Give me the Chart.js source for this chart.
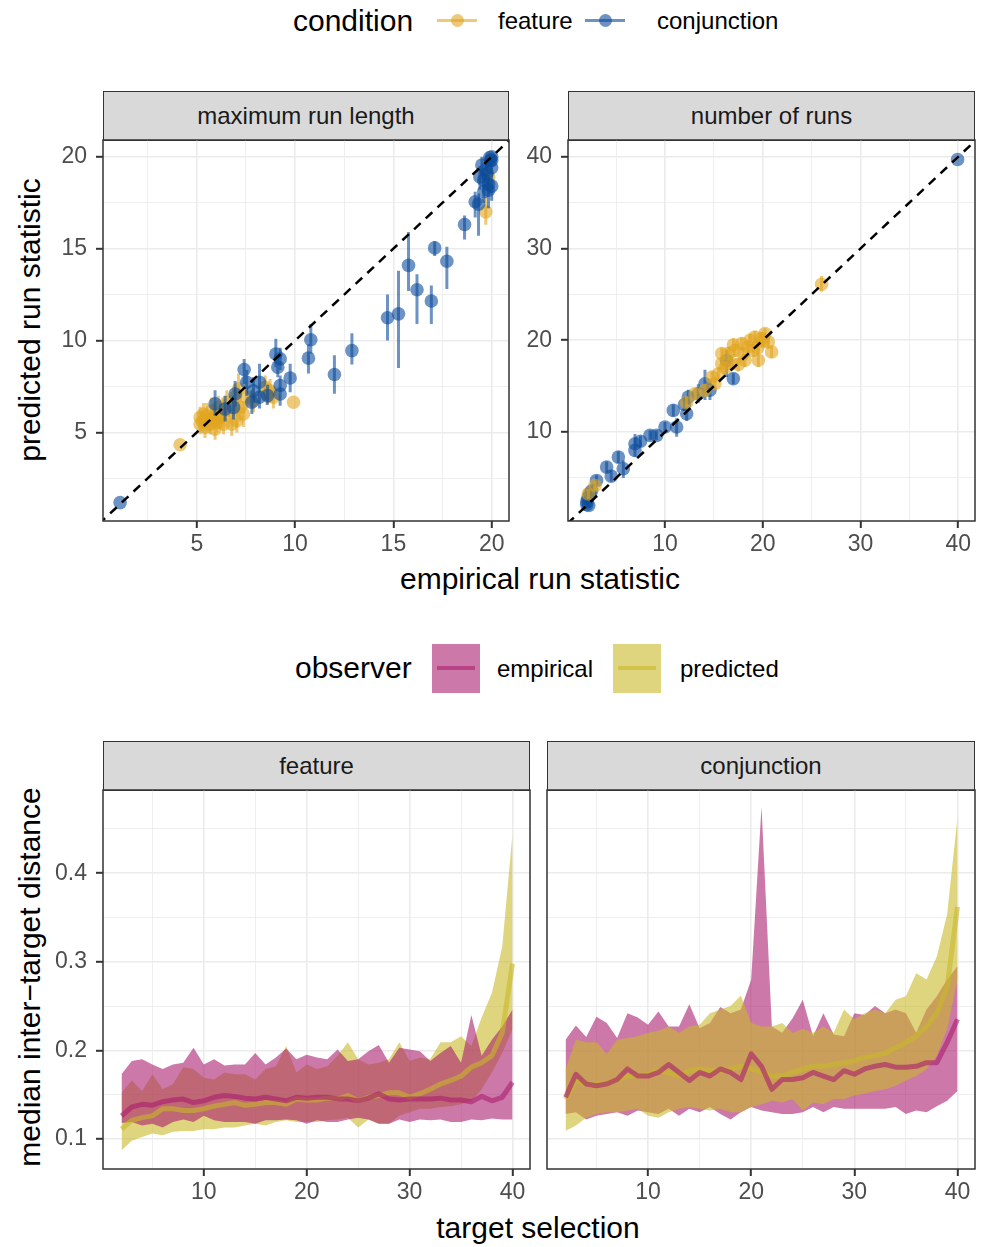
<!DOCTYPE html>
<html>
<head>
<meta charset="utf-8">
<script src="https://cdn.jsdelivr.net/npm/chart.js@4.4.1/dist/chart.umd.min.js"></script>
<style>
html,body{margin:0;padding:0;background:#fff;overflow:hidden;width:988px;height:1247px;}
body{position:relative;font-family:"Liberation Sans",Arial,Helvetica,sans-serif;}
canvas{position:absolute;}
.t{position:absolute;line-height:1;white-space:nowrap;color:#000;}
.strip{position:absolute;background:#D9D9D9;border:1.5px solid #333;box-sizing:border-box;color:#1A1A1A;font-size:24px;display:flex;align-items:center;justify-content:center;}
.k{position:absolute;}
</style>
</head>
<body>
<!-- legend 1 -->
<div class="t" style="left:293px;top:5.5px;font-size:30px;">condition</div>
<div class="k" style="left:437px;top:18.5px;width:40px;height:3px;background:rgba(225,165,30,0.6);"></div>
<div class="k" style="left:450.5px;top:13.5px;width:13px;height:13px;border-radius:50%;background:rgba(225,165,30,0.6);"></div>
<div class="t" style="left:498px;top:8.5px;font-size:24px;">feature</div>
<div class="k" style="left:585px;top:18.5px;width:40px;height:3px;background:rgba(10,75,155,0.6);"></div>
<div class="k" style="left:598.5px;top:13.5px;width:13px;height:13px;border-radius:50%;background:rgba(10,75,155,0.6);"></div>
<div class="t" style="left:657px;top:8.5px;font-size:24px;">conjunction</div>

<!-- strips top -->
<div class="strip" style="left:103px;top:91px;width:406px;height:50px;">maximum run length</div>
<div class="strip" style="left:568px;top:91px;width:407px;height:50px;">number of runs</div>

<!-- axis titles top -->
<div class="t" style="left:30px;top:320px;font-size:30px;transform:translate(-50%,-50%) rotate(-90deg);">predicted run statistic</div>
<div class="t" style="left:540px;top:563.6px;font-size:30px;transform:translateX(-50%);">empirical run statistic</div>

<!-- legend 2 -->
<div class="t" style="left:295px;top:652.6px;font-size:30px;">observer</div>
<div class="k" style="left:432px;top:644px;width:48px;height:49px;background:rgba(170,30,110,0.6);"></div>
<div class="k" style="left:437px;top:666px;width:38px;height:4px;background:rgba(170,30,110,0.6);"></div>
<div class="t" style="left:497px;top:656.7px;font-size:24px;">empirical</div>
<div class="k" style="left:613px;top:644px;width:48px;height:49px;background:rgba(200,185,40,0.6);"></div>
<div class="k" style="left:618px;top:666px;width:38px;height:4px;background:rgba(200,185,40,0.6);"></div>
<div class="t" style="left:680px;top:656.7px;font-size:24px;">predicted</div>

<!-- strips bottom -->
<div class="strip" style="left:103px;top:741px;width:427px;height:50px;">feature</div>
<div class="strip" style="left:547px;top:741px;width:428px;height:50px;">conjunction</div>

<!-- axis titles bottom -->
<div class="t" style="left:30px;top:977px;font-size:30px;transform:translate(-50%,-50%) rotate(-90deg);">median inter−target distance</div>
<div class="t" style="left:538px;top:1212.6px;font-size:30px;transform:translateX(-50%);">target selection</div>

<canvas id="c1"></canvas>
<canvas id="c2"></canvas>
<canvas id="c3"></canvas>
<canvas id="c4"></canvas>

<script>
// ---------------- DATA ----------------
// maximum run length panel
const maxFeatX  = [4.15,9.92,5.17,5.51,5.68,5.85,6.02,6.19,5.42,5.93,6.36,6.70,7.04,7.2,7.37,6.95,7.12,8.56,8.73,8.9,8.48,7.88,5.76,6.1,5.17,5.34,6.53,7.54,6.78,6.36,19.7,5.5,6.0,5.3,19.85];
const maxFeatY  = [4.33,6.64,5.82,5.64,5.45,5.82,5.55,5.82,5.27,5.18,6.0,6.18,5.64,6.36,6.0,6.91,7.36,7.09,7.27,6.91,7.45,6.73,6.18,6.36,5.45,6.0,6.64,6.91,5.45,5.45,17.0,5.9,5.7,5.6,18.9];
const maxFeatLo = [4.33,6.64,5.3,5.0,4.9,5.2,5.0,5.2,4.7,4.6,5.3,5.5,5.0,5.6,5.3,6.2,6.6,6.5,6.6,6.3,6.8,6.1,5.5,5.7,4.9,5.4,6.0,6.3,4.8,4.9,16.3,5.2,5.1,5.0,18.3];
const maxFeatHi = [4.33,6.64,6.4,6.3,6.0,6.5,6.2,6.6,5.8,5.8,6.8,7.0,6.4,7.2,6.7,7.6,8.2,7.7,7.9,7.5,8.1,7.4,6.9,7.0,6.0,6.6,7.3,7.5,6.1,6.1,17.8,6.6,6.3,6.2,19.5];

const maxConjX  = [1.10,10.80,10.68,12.0,12.89,14.70,15.26,15.77,16.20,16.93,17.10,17.72,18.62,19.16,19.33,19.59,19.84,19.76,20.0,19.93,19.5,20.0,19.84,19.6,20.0,19.9,19.7,20.0,19.4,9.02,9.24,9.12,9.75,9.24,9.24,8.19,7.54,7.41,8.19,7.8,6.95,6.87,5.93,6.44,7.88,8.6];
const maxConjY  = [1.18,10.04,9.04,8.15,9.45,11.24,11.45,14.09,12.76,12.15,15.04,14.31,16.31,17.55,17.42,18.73,18.18,19.09,20.0,19.8,19.55,19.4,18.5,18.1,19.8,19.95,19.3,18.4,18.9,9.27,9.0,8.55,7.96,7.55,7.09,7.73,7.73,8.42,6.91,6.64,7.09,6.36,6.55,6.27,7.27,7.0];
const maxConjLo = [1.18,9.3,8.2,7.1,8.7,10.0,8.5,12.7,10.9,10.9,14.6,12.8,15.5,16.7,15.7,17.9,17.2,18.5,19.8,19.5,19.0,18.8,17.8,17.5,19.5,19.7,18.7,17.6,18.2,8.55,8.4,8.0,7.18,7.0,6.45,6.73,7.0,7.64,6.3,6.0,6.4,5.7,5.9,5.6,6.6,6.5];
const maxConjHi = [1.18,10.9,9.8,9.2,10.4,12.5,13.8,15.9,13.6,13.0,15.4,15.1,16.8,18.1,18.0,19.4,18.9,19.7,20.0,20.0,20.0,19.9,19.0,18.8,20.0,20.0,19.8,19.0,19.5,10.09,9.6,9.2,8.73,8.1,7.82,8.73,8.4,9.0,7.5,7.3,7.8,7.0,7.3,7.0,8.0,7.6];

// number of runs panel
const runsFeatX  = [26.02,15.8,16.48,17.16,17.84,18.52,19.2,19.89,20.57,20.91,15.46,15.11,14.09,13.07,16.82,18.18,19.03,19.55,16.14,17.5,20.23,18.69,15.8,2.16,2.84,12.2,17.0,18.0,19.5,20.0,14.8];
const runsFeatY  = [26.1,17.45,18.55,18.9,19.64,19.27,20.36,20.18,19.82,18.73,16.36,15.27,14.55,14.18,17.45,17.82,18.9,17.82,17.0,17.36,20.73,20.0,18.55,3.27,4.18,13.2,19.5,18.5,19.2,19.9,16.0];
const runsFeatLo = [25.3,16.8,17.8,18.2,19.0,18.5,19.7,19.5,19.1,18.1,15.7,14.6,13.9,13.6,16.7,17.1,18.2,17.1,16.3,16.6,20.1,19.3,17.9,2.7,3.6,12.6,18.8,17.8,18.5,19.3,15.4];
const runsFeatHi = [27.0,18.1,19.3,19.6,20.3,20.0,21.0,20.9,20.5,19.4,17.0,15.9,15.2,14.8,18.2,18.5,19.6,18.5,17.7,18.1,21.3,20.7,19.2,3.8,4.7,13.8,20.2,19.2,19.9,20.5,16.6];

const runsConjX  = [39.93,2.0,2.1,2.3,2.0,2.5,2.2,3.0,4.03,5.23,5.74,6.93,6.93,8.47,9.15,10.0,11.19,10.85,12.22,12.39,13.41,14.09,14.6,16.3,16.99,12.0,4.5,7.5];
const runsConjY  = [39.7,2.4,2.8,3.3,2.1,3.6,2.0,4.73,6.18,7.27,6.0,8.73,8.0,9.64,9.64,10.55,10.55,12.36,12.0,13.82,14.18,15.27,14.55,17.8,15.82,13.0,5.2,9.0];
const runsConjLo = [39.7,1.9,2.2,2.8,1.7,3.0,1.7,4.2,5.6,6.6,5.0,7.8,7.3,9.1,9.1,10.0,9.5,11.7,11.2,13.0,13.2,13.5,13.5,16.0,15.2,12.3,4.6,8.4];
const runsConjHi = [39.7,3.0,3.5,3.9,2.6,4.2,2.4,5.3,6.8,7.9,6.9,9.8,8.7,10.2,10.2,11.1,11.5,13.0,12.8,14.6,15.2,16.8,15.5,18.9,16.4,13.8,5.8,9.6];

const diagonal = [0, 45]; // y = x reference line

// inter-target distance panels
const selection = [2,3,4,5,6,7,8,9,10,11,12,13,14,15,16,17,18,19,20,21,22,23,24,25,26,27,28,29,30,31,32,33,34,35,36,37,38,39,40];

const featEmpHi  = [0.173,0.188,0.190,0.184,0.179,0.184,0.186,0.203,0.184,0.190,0.183,0.184,0.184,0.197,0.184,0.192,0.202,0.190,0.195,0.192,0.190,0.201,0.188,0.190,0.199,0.206,0.186,0.203,0.201,0.199,0.188,0.197,0.205,0.186,0.240,0.194,0.212,0.227,0.246];
const featEmpMed = [0.126,0.136,0.139,0.138,0.142,0.144,0.145,0.141,0.143,0.147,0.149,0.148,0.146,0.145,0.147,0.145,0.143,0.147,0.146,0.147,0.147,0.145,0.145,0.143,0.146,0.151,0.145,0.144,0.145,0.145,0.145,0.146,0.144,0.144,0.142,0.148,0.143,0.147,0.164];
const featEmpLo  = [0.118,0.119,0.115,0.117,0.113,0.119,0.122,0.119,0.126,0.121,0.119,0.119,0.119,0.117,0.121,0.121,0.122,0.121,0.117,0.121,0.119,0.119,0.122,0.124,0.122,0.117,0.117,0.122,0.119,0.122,0.121,0.122,0.119,0.119,0.122,0.121,0.123,0.122,0.122];
const featPredHi  = [0.152,0.166,0.154,0.173,0.156,0.162,0.181,0.179,0.169,0.167,0.175,0.173,0.173,0.167,0.179,0.182,0.205,0.175,0.184,0.179,0.182,0.194,0.209,0.190,0.184,0.186,0.190,0.209,0.188,0.192,0.190,0.209,0.209,0.216,0.205,0.237,0.265,0.317,0.445];
const featPredMed = [0.111,0.121,0.124,0.126,0.134,0.134,0.132,0.132,0.134,0.137,0.139,0.141,0.138,0.139,0.141,0.141,0.139,0.145,0.144,0.144,0.146,0.145,0.149,0.143,0.147,0.149,0.152,0.152,0.147,0.151,0.156,0.162,0.166,0.171,0.181,0.186,0.194,0.220,0.298];
const featPredLo  = [0.087,0.098,0.102,0.106,0.104,0.108,0.109,0.109,0.111,0.111,0.113,0.113,0.115,0.117,0.115,0.119,0.121,0.119,0.119,0.119,0.121,0.122,0.124,0.113,0.122,0.117,0.117,0.126,0.130,0.134,0.134,0.136,0.137,0.139,0.143,0.156,0.175,0.197,0.224];

const conjEmpHi  = [0.212,0.228,0.215,0.238,0.231,0.214,0.242,0.237,0.229,0.244,0.227,0.227,0.252,0.225,0.231,0.249,0.242,0.246,0.280,0.475,0.227,0.220,0.236,0.257,0.216,0.242,0.218,0.216,0.242,0.240,0.250,0.242,0.246,0.242,0.220,0.246,0.261,0.280,0.295];
const conjEmpMed = [0.147,0.173,0.162,0.160,0.162,0.167,0.179,0.171,0.171,0.175,0.184,0.175,0.166,0.175,0.171,0.179,0.175,0.167,0.196,0.182,0.156,0.167,0.167,0.169,0.175,0.171,0.167,0.177,0.173,0.179,0.182,0.184,0.181,0.181,0.182,0.186,0.186,0.209,0.235];
const conjEmpLo  = [0.128,0.130,0.122,0.126,0.128,0.130,0.126,0.132,0.130,0.128,0.134,0.126,0.134,0.130,0.136,0.128,0.122,0.130,0.136,0.132,0.130,0.128,0.128,0.130,0.136,0.130,0.136,0.134,0.134,0.134,0.134,0.134,0.136,0.128,0.132,0.130,0.137,0.143,0.154];
const conjPredHi  = [0.179,0.212,0.209,0.209,0.196,0.212,0.214,0.216,0.220,0.222,0.227,0.220,0.227,0.229,0.242,0.246,0.250,0.262,0.231,0.227,0.227,0.231,0.220,0.224,0.220,0.227,0.220,0.246,0.235,0.242,0.246,0.242,0.257,0.261,0.287,0.280,0.306,0.354,0.463];
const conjPredMed = [0.145,0.166,0.162,0.162,0.162,0.167,0.171,0.171,0.173,0.177,0.175,0.171,0.177,0.179,0.177,0.177,0.179,0.182,0.179,0.175,0.171,0.171,0.175,0.179,0.182,0.182,0.184,0.186,0.188,0.192,0.194,0.197,0.203,0.209,0.216,0.227,0.242,0.272,0.362];
const conjPredLo  = [0.109,0.115,0.124,0.128,0.130,0.130,0.132,0.134,0.126,0.124,0.130,0.134,0.136,0.134,0.132,0.134,0.130,0.130,0.136,0.139,0.143,0.141,0.145,0.132,0.141,0.139,0.145,0.145,0.149,0.151,0.154,0.156,0.160,0.166,0.171,0.179,0.194,0.224,0.280];

// tick values (major labelled, minor grid only)
const tickMaxAll = [2.5,5,7.5,10,12.5,15,17.5,20];
const tickMaxMajor = [5,10,15,20];
const tickRunsAll = [5,10,15,20,25,30,35,40];
const tickRunsMajor = [10,20,30,40];
const tickSelAll = [5,10,15,20,25,30,35,40];
const tickSelMajor = [10,20,30,40];
const tickDistAll = [0.1,0.15,0.2,0.25,0.3,0.35,0.4,0.45];
const tickDistMajor = [0.1,0.2,0.3,0.4];

// ---------------- STYLE ----------------
const FONT = '"Liberation Sans", Arial, Helvetica, sans-serif';
const FEAT_COL = 'rgba(225,165,30,0.6)';
const CONJ_COL = 'rgba(10,75,155,0.6)';
const EMP_COL = 'rgba(170,30,110,0.6)';
const PRED_COL = 'rgba(200,185,40,0.6)';
const YW = 90, XH = 50, PT = 30, PR = 30;

function axis(min, max, all, majors, horizontal, hideLabels) {
  const isMaj = c => c && c.tick && majors.includes(c.tick.value);
  return {
    type: 'linear', min: min, max: max,
    afterBuildTicks: s => { s.ticks = all.map(v => ({value: v})); },
    afterFit: s => { if (horizontal) s.height = XH; else s.width = YW; },
    ticks: {
      autoSkip: false, maxRotation: 0, minRotation: 0,
      padding: horizontal ? 3 : 9,
      color: '#4D4D4D',
      font: {family: FONT, size: 23},
      callback: v => (!hideLabels && majors.includes(v)) ? String(v) : ''
    },
    grid: {
      color: '#EBEBEB',
      lineWidth: c => isMaj(c) ? 1.6 : 0.8,
      tickColor: c => (!hideLabels && isMaj(c)) ? '#333333' : 'rgba(0,0,0,0)',
      tickLength: 7, tickWidth: 2, drawTicks: true
    },
    border: {display: false}
  };
}

const panelBorder = {
  id: 'panelBorder',
  afterDraw(chart) {
    const a = chart.chartArea, ctx = chart.ctx;
    ctx.save();
    ctx.strokeStyle = '#333333'; ctx.lineWidth = 1.5;
    ctx.strokeRect(a.left, a.top, a.right - a.left, a.bottom - a.top);
    ctx.restore();
  }
};

function place(id, area) {
  const c = document.getElementById(id);
  const left = area.L - YW, top = area.T - PT;
  const w = area.R + PR - left, h = area.B + XH - top;
  c.width = w; c.height = h;
  c.style.left = left + 'px'; c.style.top = top + 'px';
  c.style.width = w + 'px'; c.style.height = h + 'px';
  return c;
}

function pts(xs, ys) { return xs.map((x, i) => ({x: x, y: ys[i]})); }
function bars(xs, lo, hi) {
  const out = [];
  xs.forEach((x, i) => { out.push({x: x, y: lo[i]}, {x: x, y: hi[i]}, {x: x, y: null}); });
  return out;
}
function diag() { return [{x: diagonal[0], y: diagonal[0]}, {x: diagonal[1], y: diagonal[1]}]; }

function diagSet() {
  return {type: 'line', data: diag(), borderColor: '#000', borderWidth: 2.5, borderDash: [9, 7],
          pointRadius: 0, fill: false, clip: 0};
}
function pointSet(xs, ys, col) {
  return {type: 'scatter', data: pts(xs, ys), backgroundColor: col, borderWidth: 0,
          pointRadius: 6.8, pointHoverRadius: 6.8, clip: 0};
}
function barSet(xs, lo, hi, col) {
  return {type: 'line', data: bars(xs, lo, hi), borderColor: col, borderWidth: 3,
          pointRadius: 0, spanGaps: false, fill: false, clip: 0, borderCapStyle: 'butt'};
}

const common = {
  responsive: false, animation: false, events: [],
  layout: {padding: {top: PT, right: PR, left: 0, bottom: 0}},
  plugins: {legend: {display: false}, tooltip: {enabled: false}}
};

// top-left: maximum run length
new Chart(place('c1', {L: 103, T: 140, R: 509, B: 521}), {
  type: 'scatter',
  data: {datasets: [
    diagSet(),
    pointSet(maxConjX, maxConjY, CONJ_COL),
    barSet(maxConjX, maxConjLo, maxConjHi, CONJ_COL),
    pointSet(maxFeatX, maxFeatY, FEAT_COL),
    barSet(maxFeatX, maxFeatLo, maxFeatHi, FEAT_COL)
  ]},
  options: Object.assign({}, common, {scales: {
    x: axis(0.23, 20.88, tickMaxAll, tickMaxMajor, true),
    y: axis(0.18, 20.91, tickMaxAll, tickMaxMajor, false)
  }}),
  plugins: [panelBorder]
});

// top-right: number of runs
new Chart(place('c2', {L: 568, T: 140, R: 975, B: 521}), {
  type: 'scatter',
  data: {datasets: [
    diagSet(),
    pointSet(runsFeatX, runsFeatY, FEAT_COL),
    barSet(runsFeatX, runsFeatLo, runsFeatHi, FEAT_COL),
    pointSet(runsConjX, runsConjY, CONJ_COL),
    barSet(runsConjX, runsConjLo, runsConjHi, CONJ_COL)
  ]},
  options: Object.assign({}, common, {scales: {
    x: axis(0.08, 41.71, tickRunsAll, tickRunsMajor, true),
    y: axis(0.31, 41.82, tickRunsAll, tickRunsMajor, false)
  }}),
  plugins: [panelBorder]
});

function lineSet(arr, col) {
  return {type: 'line', data: pts(selection, arr), borderColor: col, borderWidth: 5,
          pointRadius: 0, fill: false, tension: 0, clip: 0, borderJoinStyle: 'round'};
}
function ribbonHi(arr, col, target) {
  return {type: 'line', data: pts(selection, arr), borderWidth: 0, borderColor: 'rgba(0,0,0,0)',
          backgroundColor: col, pointRadius: 0, fill: target, tension: 0, clip: 0};
}
function ribbonLo(arr) {
  return {type: 'line', data: pts(selection, arr), borderWidth: 0, borderColor: 'rgba(0,0,0,0)',
          pointRadius: 0, fill: false, tension: 0, clip: 0};
}

function distOptions(hideY) {
  return Object.assign({}, common, {scales: {
    x: axis(0.2, 41.7, tickSelAll, tickSelMajor, true),
    y: axis(0.066, 0.494, tickDistAll, tickDistMajor, false, hideY)
  }});
}

// bottom-left: feature (empirical ribbon drawn above predicted)
new Chart(place('c3', {L: 103, T: 790, R: 530, B: 1169}), {
  type: 'line',
  data: {datasets: [
    lineSet(featEmpMed, EMP_COL),
    lineSet(featPredMed, PRED_COL),
    ribbonHi(featEmpHi, EMP_COL, 3),
    ribbonLo(featEmpLo),
    ribbonHi(featPredHi, PRED_COL, 5),
    ribbonLo(featPredLo)
  ]},
  options: distOptions(false),
  plugins: [panelBorder]
});

// bottom-right: conjunction (predicted ribbon drawn above empirical), shared y axis (no labels)
new Chart(place('c4', {L: 547, T: 790, R: 975, B: 1169}), {
  type: 'line',
  data: {datasets: [
    lineSet(conjEmpMed, EMP_COL),
    lineSet(conjPredMed, PRED_COL),
    ribbonHi(conjPredHi, PRED_COL, 3),
    ribbonLo(conjPredLo),
    ribbonHi(conjEmpHi, EMP_COL, 5),
    ribbonLo(conjEmpLo)
  ]},
  options: distOptions(true),
  plugins: [panelBorder]
});
</script>
</body>
</html>
